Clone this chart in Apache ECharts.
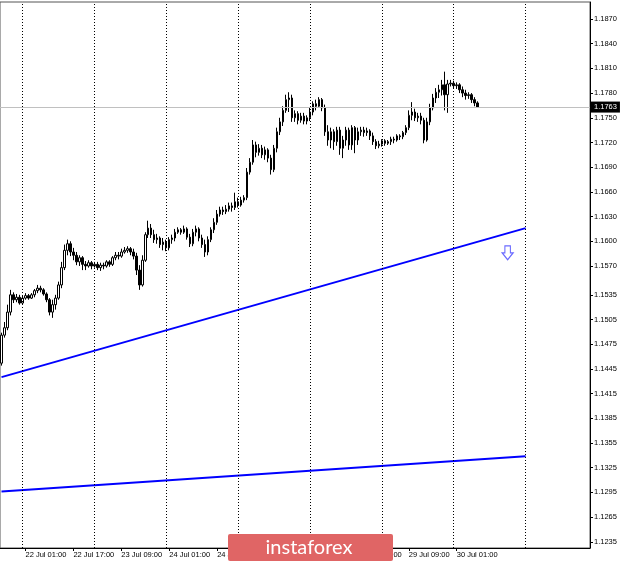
<!DOCTYPE html>
<html>
<head>
<meta charset="utf-8">
<script src="https://cdn.jsdelivr.net/npm/echarts@6/dist/echarts.min.js"></script>
<style>html,body{margin:0;padding:0;background:#fff}#c{width:620px;height:563px}</style>
</head>
<body>
<div id="c"></div>
<script>
// ---- data ----
var days = ['21 Jul','22 Jul','23 Jul','24 Jul','27 Jul','28 Jul','29 Jul','30 Jul','31 Jul'];
var firstHour = 17;          // first bar: 21 Jul 17:00 (H1 bars)
var barCount = 197;          // bars spanned by the visible axis (incl. empty right margin)

// [open, close, low, high]
var candles = [
[1.1452,1.1486,1.1449,1.1489],[1.1486,1.1495,1.1483,1.1502],[1.1495,1.1514,1.1492,1.1523],[1.1514,1.1535,1.1510,1.1541],
[1.1535,1.1529,1.1525,1.1538],[1.1529,1.1532,1.1526,1.1536],[1.1532,1.1525,1.1523,1.1535],[1.1525,1.1531,1.1523,1.1534],
[1.1531,1.1534,1.1529,1.1537],[1.1534,1.1531,1.1529,1.1536],[1.1531,1.1535,1.1530,1.1537],[1.1535,1.1540,1.1532,1.1542],
[1.1540,1.1543,1.1537,1.1547],[1.1543,1.1541,1.1538,1.1546],[1.1541,1.1536,1.1534,1.1543],[1.1536,1.1529,1.1526,1.1538],
[1.1529,1.1514,1.1510,1.1531],[1.1514,1.1523,1.1507,1.1529],[1.1523,1.1531,1.1517,1.1535],[1.1531,1.1547,1.1529,1.1551],
[1.1547,1.1568,1.1543,1.1575],[1.1568,1.1589,1.1565,1.1596],[1.1589,1.1597,1.1583,1.1602],[1.1597,1.1587,1.1582,1.1600],
[1.1587,1.1583,1.1577,1.1592],[1.1583,1.1575,1.1571,1.1587],[1.1575,1.1580,1.1570,1.1583],[1.1580,1.1572,1.1565,1.1582],
[1.1572,1.1570,1.1565,1.1576],[1.1570,1.1574,1.1568,1.1577],[1.1574,1.1570,1.1566,1.1576],[1.1570,1.1572,1.1568,1.1575],
[1.1572,1.1568,1.1565,1.1575],[1.1568,1.1571,1.1564,1.1574],[1.1571,1.1570,1.1566,1.1574],[1.1570,1.1575,1.1568,1.1577],
[1.1575,1.1572,1.1569,1.1577],[1.1572,1.1580,1.1570,1.1582],[1.1580,1.1583,1.1577,1.1587],[1.1583,1.1582,1.1578,1.1587],
[1.1582,1.1587,1.1580,1.1591],[1.1587,1.1589,1.1585,1.1593],[1.1589,1.1591,1.1586,1.1594],[1.1591,1.1587,1.1583,1.1593],
[1.1587,1.1582,1.1578,1.1591],[1.1582,1.1565,1.1559,1.1586],[1.1565,1.1547,1.1541,1.1571],[1.1547,1.1577,1.1545,1.1583],
[1.1577,1.1608,1.1575,1.1611],[1.1608,1.1616,1.1604,1.1625],[1.1616,1.1608,1.1604,1.1621],[1.1608,1.1602,1.1598,1.1614],
[1.1602,1.1604,1.1597,1.1609],[1.1604,1.1596,1.1592,1.1606],[1.1596,1.1599,1.1589,1.1604],[1.1599,1.1592,1.1588,1.1602],
[1.1592,1.1602,1.1589,1.1605],[1.1602,1.1604,1.1597,1.1608],[1.1604,1.1611,1.1600,1.1615],[1.1611,1.1614,1.1609,1.1617],
[1.1614,1.1611,1.1608,1.1616],[1.1611,1.1615,1.1609,1.1619],[1.1615,1.1605,1.1602,1.1617],[1.1605,1.1597,1.1593,1.1609],
[1.1597,1.1611,1.1594,1.1615],[1.1611,1.1615,1.1606,1.1619],[1.1615,1.1604,1.1600,1.1617],[1.1604,1.1596,1.1592,1.1608],
[1.1596,1.1587,1.1581,1.1602],[1.1587,1.1602,1.1583,1.1606],[1.1602,1.1614,1.1599,1.1617],[1.1614,1.1623,1.1610,1.1628],
[1.1623,1.1633,1.1620,1.1638],[1.1633,1.1638,1.1630,1.1642],[1.1638,1.1636,1.1632,1.1642],[1.1636,1.1639,1.1633,1.1644],
[1.1639,1.1643,1.1636,1.1647],[1.1643,1.1641,1.1636,1.1647],[1.1641,1.1648,1.1638,1.1659],[1.1648,1.1644,1.1641,1.1653],
[1.1644,1.1650,1.1642,1.1654],[1.1650,1.1653,1.1647,1.1656],[1.1653,1.1684,1.1650,1.1689],[1.1684,1.1696,1.1681,1.1701],
[1.1696,1.1717,1.1693,1.1723],[1.1717,1.1708,1.1702,1.1721],[1.1708,1.1713,1.1704,1.1718],[1.1713,1.1705,1.1701,1.1717],
[1.1705,1.1711,1.1699,1.1715],[1.1711,1.1701,1.1696,1.1713],[1.1701,1.1687,1.1681,1.1705],[1.1687,1.1713,1.1684,1.1717],
[1.1713,1.1733,1.1708,1.1738],[1.1733,1.1745,1.1729,1.1750],[1.1745,1.1759,1.1740,1.1764],[1.1759,1.1772,1.1756,1.1778],
[1.1772,1.1774,1.1757,1.1781],[1.1774,1.1750,1.1745,1.1778],[1.1750,1.1755,1.1745,1.1759],[1.1755,1.1747,1.1742,1.1758],
[1.1747,1.1752,1.1744,1.1756],[1.1752,1.1746,1.1742,1.1756],[1.1746,1.1750,1.1742,1.1753],[1.1750,1.1757,1.1746,1.1762],
[1.1757,1.1767,1.1753,1.1770],[1.1767,1.1764,1.1759,1.1772],[1.1764,1.1772,1.1762,1.1775],[1.1772,1.1762,1.1758,1.1774],
[1.1762,1.1733,1.1728,1.1766],[1.1733,1.1723,1.1716,1.1741],[1.1723,1.1733,1.1713,1.1738],[1.1733,1.1721,1.1711,1.1736],
[1.1721,1.1735,1.1716,1.1739],[1.1735,1.1713,1.1705,1.1739],[1.1713,1.1723,1.1701,1.1728],[1.1723,1.1735,1.1716,1.1739],
[1.1735,1.1717,1.1711,1.1738],[1.1717,1.1738,1.1711,1.1741],[1.1738,1.1723,1.1707,1.1740],[1.1723,1.1733,1.1717,1.1738],
[1.1733,1.1735,1.1728,1.1739],[1.1735,1.1732,1.1727,1.1739],[1.1732,1.1734,1.1728,1.1738],[1.1734,1.1728,1.1723,1.1736],
[1.1728,1.1721,1.1717,1.1732],[1.1721,1.1716,1.1712,1.1724],[1.1716,1.1718,1.1713,1.1722],[1.1718,1.1722,1.1715,1.1724],
[1.1722,1.1719,1.1716,1.1724],[1.1719,1.1721,1.1717,1.1723],[1.1721,1.1724,1.1717,1.1727],[1.1724,1.1723,1.1719,1.1727],
[1.1723,1.1728,1.1721,1.1730],[1.1728,1.1727,1.1723,1.1730],[1.1727,1.1732,1.1724,1.1734],[1.1732,1.1738,1.1729,1.1741],
[1.1738,1.1753,1.1735,1.1759],[1.1753,1.1757,1.1747,1.1769],[1.1757,1.1750,1.1746,1.1761],[1.1750,1.1752,1.1745,1.1756],
[1.1752,1.1747,1.1742,1.1756],[1.1747,1.1723,1.1719,1.1750],[1.1723,1.1745,1.1721,1.1750],[1.1745,1.1762,1.1741,1.1767],
[1.1762,1.1774,1.1759,1.1779],[1.1774,1.1781,1.1768,1.1786],[1.1781,1.1784,1.1774,1.1790],[1.1784,1.1790,1.1777,1.1796],
[1.1790,1.1778,1.1759,1.1806],[1.1778,1.1791,1.1756,1.1796],[1.1791,1.1792,1.1788,1.1796],[1.1792,1.1789,1.1786,1.1795],
[1.1789,1.1790,1.1785,1.1793],[1.1790,1.1784,1.1780,1.1792],[1.1784,1.1780,1.1775,1.1788],[1.1780,1.1777,1.1772,1.1784],
[1.1777,1.1778,1.1773,1.1781],[1.1778,1.1772,1.1768,1.1780],[1.1772,1.1768,1.1764,1.1775],[1.1768,1.1763,1.1762,1.1770]
];

var currentPrice = 1.1763;
var yTickLabels = [1.1235,1.1265,1.1295,1.1325,1.1355,1.1385,1.1415,1.1445,1.1475,1.1505,1.1535,
                   1.1570,1.1600,1.1630,1.1660,1.1690,1.1720,1.1750,1.1780,1.1810,1.1840,1.1870];
var yMin = 1.12275, yMax = 1.18906;

// trend lines: [barIndex, price] endpoints
var upperTrend = [[0, 1.1435], [175, 1.1616]];
var lowerTrend = [[0, 1.1296], [175, 1.1339]];
var arrowPoint = [169, 1.1586];

// ---- categories (H1 bars, weekend skipped) ----
var categories = [];
(function(){
  for (var d = 0; d < days.length && categories.length < barCount; d++) {
    for (var h = (d === 0 ? firstHour : 0); h < 24 && categories.length < barCount; h++) {
      categories.push(days[d] + ' ' + (h < 10 ? '0' : '') + h + ':00');
    }
  }
})();
var daySeparators = categories.filter(function(c){ return / 00:00$/.test(c) && c.indexOf('21 Jul') !== 0; });
function showX(i){ return i % 16 === 8 && i < candles.length; }

var chart = echarts.init(document.getElementById('c'), null, {renderer: 'canvas'});
var FONT = 'Liberation Sans';
chart.setOption({
  animation: false,
  backgroundColor: '#fff',
  grid: {left: -1, top: 2, width: 591, height: 546, show: true, borderColor: '#555', borderWidth: 1, backgroundColor: 'transparent'},
  xAxis: {
    type: 'category', data: categories, boundaryGap: true,
    axisLine: {show: true, lineStyle: {color: '#000', width: 1}},
    axisTick: {show: true, alignWithLabel: true, length: 3, lineStyle: {color: '#000'}, interval: showX},
    axisLabel: {show: true, interval: showX, align: 'left',
                fontFamily: FONT, fontSize: 7.5, color: '#000', margin: 3, hideOverlap: false},
    splitLine: {show: false}
  },
  yAxis: {
    type: 'value', position: 'right', min: yMin, max: yMax, scale: true,
    axisLine: {show: true, lineStyle: {color: '#000', width: 1}},
    axisTick: {show: true, length: 3, lineStyle: {color: '#000'}, customValues: yTickLabels},
    axisLabel: {show: true, customValues: yTickLabels, fontFamily: FONT, fontSize: 7.5, color: '#000', margin: 4,
                formatter: function(v){ return v.toFixed(4); }},
    splitLine: {show: false}
  },
  series: [
    {
      type: 'candlestick', data: candles, barWidth: 2,
      itemStyle: {color: '#ffffff', color0: '#000000', borderColor: '#000000', borderColor0: '#000000', borderWidth: 1},
      markLine: {
        silent: true, symbol: 'none', animation: false,
        data: daySeparators.map(function(c){
          return {xAxis: c, lineStyle: {color: '#000', width: 1, type: [1, 2]}, label: {show: false}};
        })
      },
      markPoint: {
        silent: true, animation: false,
        data: [{coord: arrowPoint, value: ''}],
        symbol: 'path://M3,0 L9,0 L9,7 L12,7 L6,14 L0,7 L3,7 Z',
        symbolSize: [11, 14],
        itemStyle: {color: '#ffffff', borderColor: '#6a6aff', borderWidth: 1.2},
        label: {show: false}
      }
    },
    {type: 'line', data: upperTrend, showSymbol: false, lineStyle: {color: '#0000ff', width: 2}, z: 3,
     markLine: {
        silent: true, symbol: 'none', animation: false, precision: 4,
        data: [{
          yAxis: currentPrice,
          lineStyle: {color: '#c0c0c0', width: 1, type: 'solid'},
          label: {show: true, position: 'end', distance: 1, formatter: currentPrice.toFixed(4),
                  backgroundColor: '#000', color: '#fff', fontFamily: FONT, fontSize: 7.5, padding: [2, 3, 1, 3]}
        }]
     }},
    {type: 'line', data: lowerTrend, showSymbol: false, lineStyle: {color: '#0000ff', width: 2}, z: 3}
  ],
  graphic: [
    {type: 'rect', left: 228, top: 534, shape: {width: 165, height: 27, r: 2}, style: {fill: '#e06565'}, z: 100},
    {type: 'text', x: 309, y: 548, style: {text: 'instaforex', fill: '#ffffff', font: '20px Lato', align: 'center', verticalAlign: 'middle'}, z: 101}
  ]
});
</script>
</body>
</html>
